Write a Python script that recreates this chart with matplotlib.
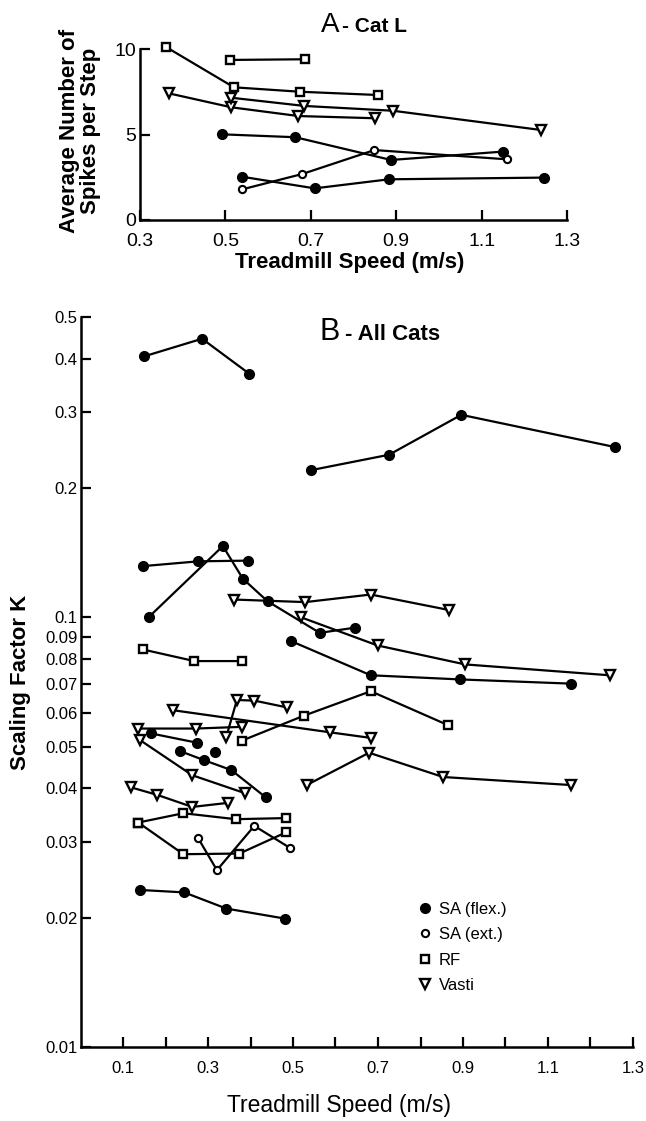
import matplotlib
matplotlib.use("Agg")
import matplotlib.pyplot as plt
from matplotlib.lines import Line2D
from matplotlib.ticker import NullLocator

plt.rcParams['font.family'] = ['Liberation Sans', 'DejaVu Sans']

# ---- panel A: Cat L, spikes per step vs speed ----
a_rf_speed = [[0.36, 0.52, 0.675, 0.857], [0.51, 0.687]]
a_rf_spikes = [[10.13, 7.76, 7.5, 7.31], [9.36, 9.4]]
a_vasti_speed = [[0.367, 0.514, 0.671, 0.851], [0.514, 0.685, 0.892, 1.24]]
a_vasti_spikes = [[7.41, 6.59, 6.08, 5.95], [7.15, 6.67, 6.39, 5.26]]
a_flex_speed = [[0.4925, 0.664, 0.888, 1.15], [0.539, 0.709, 0.883, 1.246]]
a_flex_spikes = [[5.01, 4.84, 3.51, 4.0], [2.53, 1.85, 2.38, 2.48]]
a_ext_speed = [[0.539, 0.68, 0.849, 1.159]]
a_ext_spikes = [[1.79, 2.69, 4.09, 3.55]]

# ---- panel B: all cats, scaling factor K vs speed ----
b_flex_speed = [[0.150, 0.286, 0.397], [0.542, 0.726, 0.896, 1.258],
                [0.148, 0.277, 0.393], [0.161, 0.335, 0.382, 0.440, 0.563, 0.645],
                [0.496, 0.683, 0.892, 1.153], [0.165, 0.273], [0.316],
                [0.235, 0.291, 0.355, 0.436], [0.140, 0.244, 0.343, 0.481]]
b_flex_k = [[0.405, 0.445, 0.369], [0.220, 0.239, 0.296, 0.249],
            [0.1316, 0.135, 0.1355], [0.1002, 0.1465, 0.123, 0.109, 0.092, 0.0946],
            [0.088, 0.0733, 0.0717, 0.0701], [0.0537, 0.0511], [0.0486],
            [0.0488, 0.0465, 0.0441, 0.0381], [0.0232, 0.0229, 0.0210, 0.0199]]
b_ext_speed = [[0.277, 0.321, 0.409, 0.492]]
b_ext_k = [[0.0306, 0.0258, 0.0327, 0.0291]]
b_rf_speed = [[0.146, 0.268, 0.379], [0.379, 0.525, 0.683, 0.865],
              [0.136, 0.242, 0.365, 0.484], [0.136, 0.242, 0.374, 0.484]]
b_rf_k = [[0.0842, 0.0791, 0.0791], [0.0516, 0.059, 0.0673, 0.0561],
          [0.0333, 0.0350, 0.0339, 0.0341], [0.0333, 0.0281, 0.0282, 0.0316]]
b_vasti_speed = [[0.361, 0.529, 0.683, 0.867], [0.519, 0.699, 0.905, 1.245],
                 [0.217, 0.587, 0.683], [0.136, 0.271, 0.379],
                 [0.343, 0.368, 0.409, 0.486], [0.140, 0.263, 0.386],
                 [0.532, 0.679, 0.853, 1.155], [0.119, 0.181, 0.263, 0.347]]
b_vasti_k = [[0.110, 0.1085, 0.113, 0.104], [0.100, 0.086, 0.0777, 0.0733],
             [0.0608, 0.054, 0.0524], [0.0551, 0.0551, 0.0556],
             [0.0527, 0.0642, 0.064, 0.0617], [0.0518, 0.0429, 0.0390],
             [0.0407, 0.0484, 0.0425, 0.0407], [0.0402, 0.0386, 0.0362, 0.0370]]

b_yticks = [0.01, 0.02, 0.03, 0.04, 0.05, 0.06, 0.07, 0.08, 0.09, 0.1, 0.2, 0.3, 0.4, 0.5]
b_ylabels = ['0.01', '0.02', '0.03', '0.04', '0.05', '0.06', '0.07', '0.08', '0.09',
             '0.1', '0.2', '0.3', '0.4', '0.5']
b_xticks = [0.1, 0.2, 0.3, 0.4, 0.5, 0.6, 0.7, 0.8, 0.9, 1.0, 1.1, 1.2, 1.3]
b_xlabels = ['0.1', '', '0.3', '', '0.5', '', '0.7', '', '0.9', '', '1.1', '', '1.3']

styles = {
    'flex': dict(marker='o', mfc='black', ms=7.0, mew=1.0),
    'ext': dict(marker='o', mfc='white', ms=5.2, mew=1.5),
    'rf': dict(marker='s', mfc='white', ms=5.8, mew=1.7),
    'vasti': dict(marker='v', mfc='white', ms=7.5, mew=1.7),
}


def draw(ax, xs, ys, kind):
    for x, y in zip(xs, ys):
        ax.plot(x, y, color='black', lw=1.6, mec='black', clip_on=False,
                zorder=3, **styles[kind])


def frame(ax):
    for s in ['top', 'right']:
        ax.spines[s].set_visible(False)
    for s in ['left', 'bottom']:
        ax.spines[s].set_linewidth(1.8)
    ax.tick_params(direction='in', length=7, width=1.6, colors='black')


W, H = 646, 1121
fig = plt.figure(figsize=(W / 100, H / 100), dpi=100)

# panel A
axA = fig.add_axes([140 / W, 1 - 220 / H, 427 / W, 171 / H])
draw(axA, a_rf_speed, a_rf_spikes, 'rf')
draw(axA, a_vasti_speed, a_vasti_spikes, 'vasti')
draw(axA, a_flex_speed, a_flex_spikes, 'flex')
draw(axA, a_ext_speed, a_ext_spikes, 'ext')
axA.set_xlim(0.3, 1.3)
axA.set_ylim(0, 10)
axA.set_xticks([0.3, 0.5, 0.7, 0.9, 1.1, 1.3])
axA.set_xticklabels(['0.3', '0.5', '0.7', '0.9', '1.1', '1.3'])
axA.set_yticks([0, 5, 10])
axA.set_yticklabels(['0', '5', '10'])
frame(axA)
axA.tick_params(axis='x', labelsize=14, pad=9)
axA.tick_params(axis='y', labelsize=14, pad=3)
axA.set_xlabel('Treadmill Speed (m/s)', fontsize=16, fontweight='bold', va='center')
axA.xaxis.set_label_coords(0.492, -0.251)
axA.set_ylabel('Average Number of\nSpikes per Step', fontsize=16, fontweight='bold',
               va='center', linespacing=1.0)
axA.yaxis.set_label_coords(-0.14, 0.52)
fig.text(339 / W, 1 - 32 / H, 'A', fontsize=20, ha='right', va='baseline')
fig.text(342 / W, 1 - 32 / H, '- Cat L', fontsize=15, fontweight='bold',
         ha='left', va='baseline')

# panel B
axB = fig.add_axes([80.5 / W, 1 - 1047 / H, (633 - 80.5) / W, 730 / H])
draw(axB, b_flex_speed, b_flex_k, 'flex')
draw(axB, b_ext_speed, b_ext_k, 'ext')
draw(axB, b_rf_speed, b_rf_k, 'rf')
draw(axB, b_vasti_speed, b_vasti_k, 'vasti')
axB.set_yscale('log')
axB.set_ylim(0.01, 0.5)
axB.set_xlim(0, 1.3)
axB.yaxis.set_minor_locator(NullLocator())
axB.set_yticks(b_yticks)
axB.set_yticklabels(b_ylabels)
axB.set_xticks(b_xticks)
axB.set_xticklabels(b_xlabels)
frame(axB)
axB.tick_params(axis='x', labelsize=12, pad=10)
axB.tick_params(axis='y', labelsize=12, pad=2)
axB.set_xlabel('Treadmill Speed (m/s)', fontsize=16.5, va='center')
axB.xaxis.set_label_coords(0.467, -0.0795)
axB.set_ylabel('Scaling Factor K', fontsize=16, fontweight='bold', va='center')
axB.yaxis.set_label_coords(-0.109, 0.5)
fig.text(340 / W, 1 - 340 / H, 'B', fontsize=22, ha='right', va='baseline')
fig.text(345 / W, 1 - 340 / H, '- All Cats', fontsize=16, fontweight='bold',
         ha='left', va='baseline')

handles = [Line2D([], [], ls='none', mec='black', **styles[k]) for k in ['flex', 'ext', 'rf', 'vasti']]
axB.legend(handles, ['SA (flex.)', 'SA (ext.)', 'RF', 'Vasti'], loc='upper left',
           bbox_to_anchor=(417 / W, 1 - 902 / H), bbox_transform=fig.transFigure,
           frameon=False, fontsize=12, handlelength=0.9, handletextpad=0.4,
           labelspacing=0.62, borderpad=0, borderaxespad=0)

fig.savefig('out.png', dpi=100)
